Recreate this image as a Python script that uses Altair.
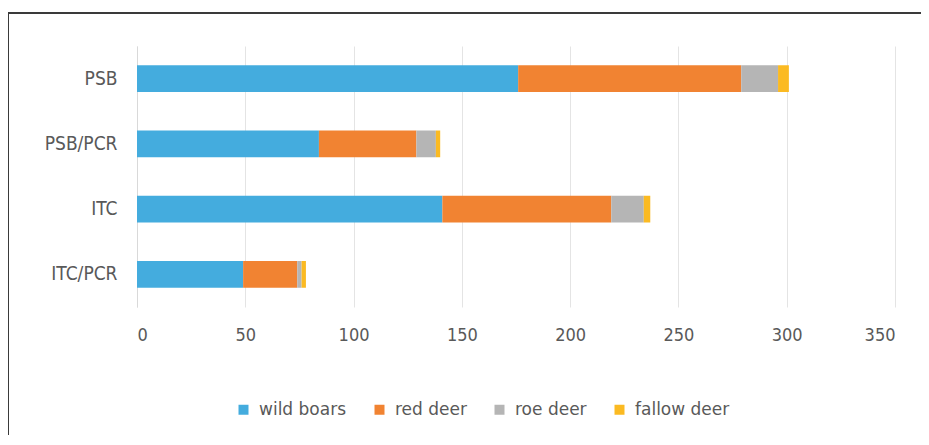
import altair as alt
import pandas as pd

categories = ["PSB", "PSB/PCR", "ITC", "ITC/PCR"]
species = ["wild boars", "red deer", "roe deer", "fallow deer"]
wild_boars = [176, 84, 141, 49]
red_deer = [103, 45, 78, 25]
roe_deer = [17, 9, 15, 2]
fallow_deer = [5, 2, 3, 2]
x_ticks = [0, 50, 100, 150, 200, 250, 300, 350]
colors = ["#44ACDE", "#F18332", "#B5B5B5", "#FBBA22"]

rows = []
for i, cat in enumerate(categories):
    for j, (sp, vals) in enumerate(zip(species, [wild_boars, red_deer, roe_deer, fallow_deer])):
        rows.append({"site": cat, "species": sp, "count": vals[i], "order": j})
df = pd.DataFrame(rows)

label_font = "DejaVu Sans Condensed"

bars = alt.Chart(df).mark_bar().encode(
    y=alt.Y("site:N", sort=categories, title=None,
            scale=alt.Scale(paddingInner=0.59, paddingOuter=0.295),
            axis=alt.Axis(ticks=False, grid=False, domain=True, domainColor="#d9d9d9",
                          labelFont=label_font, labelFontSize=19, labelColor="#595959",
                          labelPadding=20)),
    x=alt.X("count:Q", stack="zero", title=None,
            scale=alt.Scale(domain=[0, 350], nice=False),
            axis=alt.Axis(values=x_ticks, ticks=False, domain=False, grid=True,
                          gridColor="#e4e4e4", labelFont=label_font, labelFontSize=18,
                          labelColor="#595959", labelPadding=19)),
    color=alt.Color("species:N", scale=alt.Scale(domain=species, range=colors),
                    legend=alt.Legend(title=None, orient="none", direction="horizontal",
                                      legendX=98, legendY=355, symbolType="square",
                                      symbolSize=100, symbolStrokeWidth=0,
                                      labelFont="DejaVu Sans", labelFontSize=17,
                                      labelColor="#595959", labelOffset=7,
                                      columnPadding=24)),
    order=alt.Order("order:Q"),
)

frame = pd.DataFrame({"a": [0]})
top_rule = alt.Chart(frame).mark_rule(color="#3a3a3a", strokeWidth=2).encode(
    x=alt.value(-130), x2=alt.value(800), y=alt.value(-33)
)
left_rule = alt.Chart(frame).mark_rule(color="#3a3a3a", strokeWidth=2).encode(
    x=alt.value(-129), y=alt.value(-34), y2=alt.value(400)
)

chart = alt.layer(bars, top_rule, left_rule).properties(
    width=758, height=261,
    autosize=alt.AutoSizeParams(type="none"),
    padding={"left": 129, "top": 38, "right": 26, "bottom": 128},
    background="white",
).configure_view(stroke=None)

chart.save("out.html", embed_options={"renderer": "svg", "actions": False})
